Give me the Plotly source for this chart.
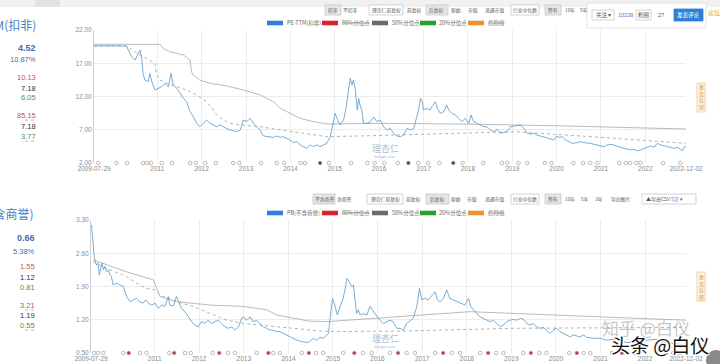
import plotly.graph_objects as go
from datetime import datetime

# ---------------- data (decimal years) ----------------
pe_years = [2009.57, 2010.31, 2010.345, 2010.42, 2010.50, 2010.57, 2010.61, 2010.65, 2010.68, 2010.72,
            2010.80, 2010.83, 2010.89, 2010.95, 2011.02, 2011.10, 2011.17, 2011.25, 2011.31, 2011.36,
            2011.44, 2011.51, 2011.59, 2011.66, 2011.74, 2011.81, 2011.89, 2011.96, 2012.04, 2012.11,
            2012.19, 2012.26, 2012.34, 2012.41, 2012.49, 2012.57, 2012.64, 2012.72, 2012.79, 2012.87,
            2012.94, 2013.02, 2013.09, 2013.17, 2013.24, 2013.32, 2013.39, 2013.47, 2013.54, 2013.62,
            2013.69, 2013.77, 2013.84, 2013.92, 2013.99, 2014.07, 2014.15, 2014.22, 2014.30, 2014.37,
            2014.45, 2014.52, 2014.60, 2014.67, 2014.75, 2014.82, 2014.90, 2014.96, 2015.01, 2015.05,
            2015.12, 2015.20, 2015.26, 2015.31, 2015.35, 2015.39, 2015.42, 2015.46, 2015.51, 2015.54,
            2015.57, 2015.61, 2015.65, 2015.73, 2015.80, 2015.88, 2015.95, 2016.03, 2016.10,
            2016.18, 2016.25, 2016.33, 2016.40, 2016.48, 2016.55, 2016.63, 2016.70, 2016.78, 2016.84,
            2016.89, 2016.93, 2016.97, 2017.00, 2017.08, 2017.15, 2017.19, 2017.27, 2017.31, 2017.38,
            2017.46, 2017.52, 2017.57, 2017.64, 2017.72, 2017.79, 2017.87, 2017.94, 2018.02, 2018.07,
            2018.13, 2018.21, 2018.28, 2018.36, 2018.43, 2018.51, 2018.58, 2018.66, 2018.73, 2018.81,
            2018.89, 2018.96, 2019.04, 2019.11, 2019.19, 2019.26, 2019.34, 2019.41, 2019.49, 2019.56,
            2019.64, 2019.71, 2019.79, 2019.86, 2019.94, 2020.00, 2020.05, 2020.13, 2020.20, 2020.28,
            2020.35, 2020.47, 2020.54, 2020.62, 2020.69, 2020.77, 2020.84, 2020.92, 2020.99, 2021.07,
            2021.14, 2021.22, 2021.29, 2021.37, 2021.44, 2021.52, 2021.59, 2021.67, 2021.74, 2021.82,
            2021.90, 2021.97, 2022.05, 2022.12, 2022.20, 2022.27, 2022.35, 2022.42, 2022.50, 2022.57,
            2022.65, 2022.72, 2022.80, 2022.84, 2022.87, 2022.925]
pe_values = [19.6, 19.6, 18.99, 17.99, 17.49, 18.49, 18.99, 17.74, 15.48, 14.48,
             14.23, 15.48, 13.98, 12.98, 13.23, 13.48, 13.98, 13.48, 15.48, 13.73,
             13.23, 12.48, 11.72, 11.22, 9.72, 8.97, 7.96, 7.46, 7.96, 8.47,
             7.96, 7.71, 7.46, 7.71, 7.46, 7.21, 6.96, 6.86, 6.71, 6.96,
             8.47, 8.22, 8.72, 7.96, 7.46, 6.96, 6.06, 5.96, 5.96, 5.86,
             6.06, 5.86, 5.96, 5.71, 5.46, 5.06, 5.21, 4.71, 4.46, 4.21,
             4.71, 4.46, 4.71, 4.46, 4.71, 4.96, 5.96, 7.96, 9.47, 8.72,
             7.71, 8.47, 10.47, 12.98, 14.73, 13.73, 14.48, 13.23, 9.97, 11.72,
             10.72, 9.97, 7.96, 7.96, 8.22, 8.87, 8.22, 8.47, 7.46,
             6.96, 7.21, 6.46, 6.06, 5.96, 6.21, 7.21, 6.96, 7.21, 8.97,
             9.97, 11.72, 11.22, 9.97, 10.22, 9.97, 10.47, 11.22, 10.22, 9.47,
             9.72, 10.72, 9.97, 9.47, 9.22, 8.72, 8.22, 8.72, 7.96, 9.22,
             8.22, 7.96, 7.71, 7.46, 7.46, 6.96, 6.71, 7.06, 6.46, 6.56,
             6.71, 7.46, 7.56, 7.71, 7.71, 7.21, 6.46, 6.36, 6.46, 6.21,
             6.06, 5.86, 5.71, 5.56, 5.46, 6.06, 5.86, 5.96, 5.46, 5.21,
             4.96, 5.06, 5.21, 5.06, 5.06, 4.96, 4.81, 4.71, 4.56, 4.46,
             4.71, 4.81, 4.71, 4.46, 4.36, 4.21, 4.06, 3.96, 4.06, 3.85,
             3.96, 4.21, 4.36, 4.56, 4.36, 4.96, 4.71, 4.56, 4.46, 4.36,
             4.21, 4.36, 3.96, 3.85, 4.36, 4.52]

pe_p50_years = [2009.57, 2011.06, 2011.13, 2011.28, 2011.44, 2011.59, 2011.74, 2011.77, 2011.81, 2011.96,
                2012.19, 2012.57, 2012.94, 2013.32, 2013.62, 2013.77, 2013.92, 2014.07, 2014.22, 2014.52,
                2014.82, 2016.03, 2018.00, 2020.00, 2022.925]
pe_p50_values = [19.85, 19.85, 19.24, 18.74, 18.49, 18.24, 17.49, 15.73, 15.23, 14.48,
                 13.98, 13.58, 12.98, 12.23, 11.22, 10.22, 9.72, 9.22, 8.72, 8.22,
                 7.86, 7.96, 7.85, 7.60, 7.11]

pe_p20_years = [2009.57, 2010.31, 2010.61, 2010.83, 2010.95, 2010.98, 2011.06, 2011.21, 2011.44, 2011.66,
                2011.89, 2012.11, 2012.26, 2012.34, 2012.49, 2012.64, 2012.87, 2013.32, 2013.69, 2014.07,
                2014.52, 2014.82, 2015.57, 2016.48, 2017.53, 2019.04, 2020.54, 2022.05, 2022.925]
pe_p20_values = [19.6, 19.6, 18.24, 17.49, 16.99, 15.48, 14.48, 13.98, 13.48, 12.98,
                 12.23, 11.22, 9.97, 9.22, 8.47, 7.96, 7.71, 7.46, 7.06, 6.71,
                 6.21, 5.96, 6.06, 6.21, 6.46, 6.71, 6.06, 5.36, 4.96]

pe_event_years = [2009.67, 2010.08, 2010.32, 2010.68, 2010.77, 2010.86, 2011.10, 2011.33, 2011.74, 2011.87,
                  2012.08, 2012.32, 2012.71, 2012.85, 2013.34, 2013.69, 2013.86, 2014.23, 2014.33, 2014.67,
                  2014.87, 2015.37, 2015.74, 2015.90, 2016.12, 2016.42, 2016.66, 2016.88, 2017.10, 2017.36,
                  2017.67, 2017.88, 2018.35, 2018.77, 2018.89, 2019.14, 2019.34, 2019.74, 2019.89, 2020.38,
                  2020.60, 2020.76, 2020.92, 2021.41, 2021.56, 2021.66, 2021.80, 2021.89, 2022.40, 2022.79,
                  2022.92]
pe_event_kind = [0, 0, 0, 0, 0, 0, 0, 0, 0, 0,
                 0, 0, 0, 0, 0, 0, 0, 0, 0, 1,
                 0, 0, 0, 0, 0, 0, 1, 0, 0, 0,
                 1, 0, 0, 0, 0, 0, 0, 0, 0, 0,
                 0, 0, 0, 0, 0, 0, 0, 0, 0, 0,
                 0]

pb_years = [2009.57, 2009.585, 2009.60, 2009.62, 2009.645, 2009.67, 2009.70, 2009.73, 2009.76, 2009.79,
            2009.82, 2009.85, 2009.88, 2009.92, 2009.96, 2010.00, 2010.03, 2010.07, 2010.15, 2010.22,
            2010.30, 2010.37, 2010.45, 2010.52, 2010.59, 2010.67, 2010.74, 2010.80, 2010.86, 2010.93,
            2011.01, 2011.08, 2011.16, 2011.23, 2011.31, 2011.34, 2011.42, 2011.49, 2011.55, 2011.60,
            2011.68, 2011.75, 2011.83, 2011.90, 2011.98, 2012.05, 2012.13, 2012.20, 2012.28, 2012.35,
            2012.43, 2012.50, 2012.58, 2012.65, 2012.73, 2012.80, 2012.88, 2012.95, 2013.00, 2013.06,
            2013.14, 2013.21, 2013.29, 2013.36, 2013.44, 2013.51, 2013.59, 2013.66, 2013.74, 2013.81,
            2013.89, 2013.96, 2014.04, 2014.11, 2014.19, 2014.26, 2014.33, 2014.41, 2014.48, 2014.56,
            2014.63, 2014.71, 2014.78, 2014.86, 2014.90, 2014.93, 2014.99, 2015.04, 2015.10, 2015.16,
            2015.22, 2015.27, 2015.31, 2015.34, 2015.38, 2015.42, 2015.46, 2015.49, 2015.53, 2015.57,
            2015.61, 2015.68, 2015.76, 2015.83, 2015.91, 2015.98, 2016.05, 2016.13, 2016.20, 2016.28,
            2016.35, 2016.43, 2016.50, 2016.58, 2016.65, 2016.73, 2016.80, 2016.88, 2016.94, 2016.99,
            2017.06, 2017.14, 2017.21, 2017.29, 2017.34, 2017.40, 2017.48, 2017.55, 2017.62, 2017.70,
            2017.77, 2017.85, 2017.96, 2018.04, 2018.09, 2018.15, 2018.22, 2018.30, 2018.37, 2018.45,
            2018.52, 2018.60, 2018.67, 2018.75, 2018.82, 2018.90, 2018.97, 2019.05, 2019.12, 2019.20,
            2019.27, 2019.35, 2019.42, 2019.49, 2019.57, 2019.64, 2019.72, 2019.79, 2019.87, 2019.94,
            2020.02, 2020.09, 2020.17, 2020.24, 2020.32, 2020.39, 2020.47, 2020.54, 2020.62, 2020.69,
            2020.84, 2020.99, 2021.14, 2021.29, 2021.44, 2021.59, 2021.74, 2021.89, 2022.04, 2022.26,
            2022.34, 2022.49, 2022.64, 2022.79, 2022.925]
pb_values = [3.16, 3.19, 3.02, 2.74, 2.53, 2.42, 2.35, 2.39, 2.14, 2.28,
             2.39, 2.25, 2.32, 2.21, 2.25, 2.14, 2.11, 1.93, 1.97, 1.93,
             1.90, 1.69, 1.58, 1.62, 1.65, 1.58, 1.55, 1.62, 1.55, 1.51,
             1.55, 1.44, 1.51, 1.48, 1.69, 1.51, 1.49, 1.69, 1.55, 1.44,
             1.37, 1.26, 1.16, 1.09, 1.05, 1.16, 1.12, 1.19, 1.12, 1.16,
             1.19, 1.12, 1.05, 1.02, 1.05, 0.98, 1.05, 1.23, 1.26, 1.19,
             1.26, 1.16, 1.19, 1.12, 1.05, 1.02, 0.98, 0.98, 0.95, 0.95,
             0.91, 0.88, 0.84, 0.81, 0.77, 0.75, 0.74, 0.72, 0.74, 0.81,
             0.77, 0.83, 0.81, 0.88, 0.91, 1.19, 1.65, 1.51, 1.30, 1.48,
             1.62, 1.83, 2.07, 2.04, 1.97, 1.90, 1.93, 1.69, 1.33, 1.41,
             1.30, 1.33, 1.30, 1.48, 1.37, 1.30, 1.19, 1.12, 1.16, 1.19,
             1.16, 1.02, 1.02, 0.98, 1.12, 1.19, 1.23, 1.48, 1.86, 1.62,
             1.65, 1.62, 1.69, 1.79, 1.62, 1.58, 1.65, 1.83, 1.65, 1.62,
             1.58, 1.55, 1.51, 1.65, 1.48, 1.41, 1.33, 1.26, 1.23, 1.19,
             1.16, 1.19, 1.12, 1.05, 1.09, 1.16, 1.19, 1.21, 1.19, 1.23,
             1.21, 1.12, 1.09, 1.12, 1.05, 1.02, 1.04, 0.98, 0.91, 0.98,
             1.02, 0.95, 0.91, 0.88, 0.84, 0.88, 0.86, 0.84, 0.88, 0.83,
             0.81, 0.81, 0.77, 0.79, 0.76, 0.72, 0.73, 0.76, 0.77, 0.79,
             0.76, 0.72, 0.70, 0.68, 0.66]

pb_p50_years = [2009.62, 2010.37, 2010.97, 2011.12, 2011.49, 2012.24, 2012.99, 2013.51, 2013.74, 2014.11,
                2014.48, 2014.86, 2015.61, 2016.35, 2018.07, 2022.925]
pb_p50_values = [2.46, 2.21, 2.04, 1.69, 1.58, 1.51, 1.48, 1.41, 1.30, 1.23,
                 1.17, 1.16, 1.21, 1.26, 1.37, 1.19]

pb_p20_years = [2009.62, 2010.00, 2010.37, 2010.59, 2010.82, 2011.01, 2011.12, 2011.49, 2011.87, 2012.24,
                2012.62, 2012.99, 2013.36, 2014.11, 2014.86, 2015.61, 2016.50, 2019.05, 2022.925]
pb_p20_values = [2.42, 2.25, 2.11, 1.97, 1.86, 1.83, 1.72, 1.58, 1.48, 1.33,
                 1.19, 1.12, 1.09, 1.02, 0.95, 0.95, 0.96, 1.02, 1.04]

pb_event_years = [2009.57, 2009.645, 2009.73, 2009.85, 2010.30, 2010.42, 2010.67, 2010.82, 2011.33, 2011.44,
                  2011.68, 2011.81, 2012.30, 2012.45, 2012.65, 2012.80, 2013.29, 2013.55, 2013.66, 2013.81,
                  2014.30, 2014.46, 2014.62, 2014.78, 2015.23, 2015.48, 2015.67, 2015.87, 2016.28, 2016.46,
                  2016.65, 2016.84, 2017.29, 2017.47, 2017.66, 2017.85, 2018.30, 2018.48, 2018.66, 2018.82,
                  2019.27, 2019.44, 2019.63, 2019.79, 2020.30, 2020.47, 2020.62, 2020.77, 2021.26, 2021.48,
                  2021.62, 2021.77, 2022.27, 2022.47, 2022.63, 2022.77]
pb_event_kind = [2, 0, 0, 0, 0, 1, 0, 0, 0, 1,
                 0, 0, 0, 1, 0, 0, 0, 1, 0, 0,
                 0, 1, 0, 0, 0, 1, 0, 0, 0, 1,
                 0, 0, 0, 1, 0, 0, 0, 1, 0, 0,
                 0, 1, 0, 0, 0, 1, 0, 0, 0, 1,
                 0, 0, 0, 1, 0, 0]

x_tick_dates = ["2009-07-29", "2011-01-01", "2012-01-01", "2013-01-01", "2014-01-01", "2015-01-01",
                "2016-01-01", "2017-01-01", "2018-01-01", "2019-01-01", "2020-01-01", "2021-01-01",
                "2022-01-01", "2022-12-02"]
x_tick_text = ["2009-07-29", "2011", "2012", "2013", "2014", "2015", "2016", "2017", "2018", "2019",
               "2020", "2021", "2022", "2022-12-02"]
pe_ticks = [2, 7, 12, 17, 22]
pb_ticks = [0.5, 1.2, 1.9, 2.6, 3.3]

pe_stats = ["4.52", "10.87%", "10.13", "7.18", "6.05", "85.15", "7.18", "3.77"]
pb_stats = ["0.66", "5.38%", "1.55", "1.12", "0.81", "3.21", "1.19", "0.55"]
stat_names = ["当前值", "分位点", "80%分位点", "50%分位点", "20%分位点", "最大值", "平均值", "最小值"]

# ---------------- helpers ----------------
W, H = 720, 364
CJK = "Noto Sans CJK SC, Liberation Sans, sans-serif"
LAT = "Liberation Sans, Noto Sans CJK SC, sans-serif"


def to_date(v):
    y = int(v)
    a, b = datetime(y, 1, 1), datetime(y + 1, 1, 1)
    return a + (b - a) * (v - y)


def px(x):
    return x / W


def py(y):
    return 1 - y / H


shapes, anns = [], []


def text(x, y, s, size=6, color="#555", xa="left", ya="middle", family=CJK, **font_kw):
    f = dict(size=size, color=color, family=family)
    f.update(font_kw)
    anns.append(dict(x=px(x), y=py(y), xref="paper", yref="paper", text=s, showarrow=False,
                     xanchor=xa, yanchor=ya, font=f, borderpad=0))


def rect(x0, y0, x1, y1, fill="rgba(0,0,0,0)", line="#ccc", lw=0.8, layer="above"):
    shapes.append(dict(type="rect", xref="paper", yref="paper", x0=px(x0), x1=px(x1),
                       y0=py(y1), y1=py(y0), fillcolor=fill, line=dict(color=line, width=lw), layer=layer))


def hline(x0, x1, y, color="#999", dash="dot", lw=0.8):
    shapes.append(dict(type="line", xref="paper", yref="paper", x0=px(x0), x1=px(x1),
                       y0=py(y), y1=py(y), line=dict(color=color, width=lw, dash=dash)))


fig = go.Figure()

LINE_BLUE = "#68a3cf"


def add_panel(xa, ya, yrs, vals, p50y, p50v, p20y, p20v, ev_y, ev_k, ymin, kind_colors):
    fig.add_trace(go.Scatter(x=[to_date(v) for v in p50y], y=p50v, mode="lines", xaxis=xa, yaxis=ya,
                             line=dict(color="#a8a8a8", width=0.8), hoverinfo="skip", showlegend=False))
    fig.add_trace(go.Scatter(x=[to_date(v) for v in p20y], y=p20v, mode="lines", xaxis=xa, yaxis=ya,
                             line=dict(color="#97a397", width=0.8, dash="dot"), hoverinfo="skip",
                             showlegend=False))
    fig.add_trace(go.Scatter(x=[to_date(v) for v in yrs], y=vals, mode="lines", xaxis=xa, yaxis=ya,
                             line=dict(color=LINE_BLUE, width=0.9), showlegend=False))
    fills = [kind_colors[k] for k in ev_k]
    fig.add_trace(go.Scatter(x=[to_date(v) for v in ev_y], y=[ymin] * len(ev_y), mode="markers",
                             xaxis=xa, yaxis=ya, cliponaxis=False, showlegend=False,
                             marker=dict(symbol="circle", size=3.6, color=fills,
                                         line=dict(color="#a0a0a0", width=0.7))))


add_panel("x", "y", pe_years, pe_values, pe_p50_years, pe_p50_values, pe_p20_years, pe_p20_values,
          pe_event_years, pe_event_kind, 2, ["white", "#444444", "#e8a23a"])
add_panel("x2", "y2", pb_years, pb_values, pb_p50_years, pb_p50_values, pb_p20_years, pb_p20_values,
          pb_event_years, pb_event_kind, 0.5, ["white", "#c8323a", "#e8b040"])

xcommon = dict(type="date", range=["2009-07-29", "2022-12-02"], tickvals=x_tick_dates,
               ticktext=x_tick_text, showgrid=True, gridcolor="#ececec", gridwidth=1,
               tickfont=dict(size=6.5, color="#8a8a8a", family=LAT), ticks="", zeroline=False,
               showline=False, automargin=False)
ycommon = dict(showgrid=True, gridcolor="#ececec", tickformat=".2f", ticks="", zeroline=False,
               tickfont=dict(size=6.5, color="#7b8fae", family=LAT), showline=True, linecolor="#d0d0d0",
               linewidth=1, automargin=False)

fig.update_layout(
    width=W, height=H, margin=dict(l=0, r=0, t=0, b=0, pad=0), autosize=False,
    paper_bgcolor="white", plot_bgcolor="white", showlegend=False,
    xaxis=dict(domain=[94 / W, 686 / W], anchor="y", **xcommon),
    yaxis=dict(domain=[py(163), py(30)], anchor="x", range=[2, 22], tickvals=pe_ticks, **ycommon),
    xaxis2=dict(domain=[91 / W, 686 / W], anchor="y2", **xcommon),
    yaxis2=dict(domain=[py(353), py(220)], anchor="x2", range=[0.5, 3.3], tickvals=pb_ticks, **ycommon),
)

# ---------------- page chrome ----------------
rect(0, 0, 720, 7, fill="#f1f1f1", line="#f1f1f1", lw=0, layer="below")
rect(35, 0, 60, 7, fill="#e2e2e2", line="#e2e2e2", lw=0, layer="below")

# left stats panels
text(37, 25, "PE-TTM(扣非)", size=12, color="#3f7fc6", xa="right")
text(35, 213, "PB(不含商誉)", size=12, color="#3f7fc6", xa="right")
stat_colors = ["#3d6fb6", "#3d6fb6", "#c8505a", "#333333", "#4f8f4f", "#c8505a", "#333333", "#4f8f4f"]
pe_rows = [48, 60, 77, 88, 98, 115, 126, 136]
pb_rows = [238, 251, 266, 277, 287, 305, 315, 325]
for i in range(8):
    bold = "bold" if i == 0 else "normal"
    sz = 9 if i == 0 else 7.5
    text(37, pe_rows[i], pe_stats[i], size=sz, color=stat_colors[i], xa="right", family=LAT, weight=bold)
    text(36, pb_rows[i], pb_stats[i], size=sz, color=stat_colors[i], xa="right", family=LAT, weight=bold)
    text(3, pe_rows[i], stat_names[i] + "：", size=6, color="#999", xa="right")
    text(3, pb_rows[i], stat_names[i] + "：", size=6, color="#999", xa="right")
for yy in (120, 141):
    hline(25, 37, yy, color="#c8a0a0" if yy == 120 else "#90b090")
for yy in (310, 330):
    hline(25, 36, yy, color="#c8a0a0" if yy == 310 else "#90b090")


def toolbar(y, items):
    for (x0, x1, label, style) in items:
        if style == "sel":
            rect(x0, y - 5, x1, y + 5, fill="#e6e6e6", line="#c8c8c8")
        elif style == "box":
            rect(x0, y - 5, x1, y + 5, fill="white", line="#c8c8c8")
        text((x0 + x1) / 2, y, label, size=4.8, color="#555", xa="center")


toolbar(10, [(325, 341, "扣非", "sel"), (342, 359, "不扣非", ""),
             (369, 403, "理杏仁前复权", "box"), (406, 423, "前复权", ""), (426, 448, "后复权", "sel"),
             (450, 462, "原始", ""), (466, 479, "市值", ""), (483, 505, "流通市值", ""),
             (511, 539, "行业中位数", "box"), (545, 561, "所有", "sel"), (563, 576, "10年", ""),
             (578, 590, "5年", "")])
toolbar(199, [(313, 335, "不含商誉", "sel"), (337, 352, "含商誉", ""),
              (367, 403, "理杏仁前复权", "box"), (406, 422, "前复权", ""), (426, 449, "后复权", "sel"),
              (450, 462, "原始", ""), (466, 478, "市值", ""), (483, 505, "流通市值", ""),
              (511, 539, "行业中位数", "box"), (545, 561, "所有", "sel"), (563, 576, "10年", ""),
              (579, 590, "5年", ""), (593, 604, "3年", ""), (610, 630, "导出图片", "")])
rect(642, 194, 696, 204, fill="white", line="#c8c8c8")
text(645, 199, "▲导出CSV <span style='color:#3f7fc6'>5次</span> ▾", size=5, color="#555")

# popup (top right)
rect(587, 3, 706, 28, fill="white", line="#dcdcdc")
rect(592, 10, 614, 20, fill="white", line="#c8c8c8")
text(603, 15, "关注 ▾", size=5.5, color="#555", xa="center")
text(625, 15, "10239", size=5.5, color="#3f7fc6", xa="center", family=LAT)
rect(636, 10, 651, 20, fill="white", line="#c8c8c8")
text(643.5, 15, "粉圈", size=5.5, color="#555", xa="center")
text(661, 15, "27", size=5.5, color="#555", xa="center", family=LAT)
rect(674, 9, 703, 21, fill="#2f7fd8", line="#2f7fd8")
text(688.5, 15, "发表评论", size=5.5, color="white", xa="center")
text(707, 13, "论坛", size=6, color="#d9a040")

# legends
def legend(y, first_label):
    items = [(267, "#2f7ed8", first_label, False), (322, "#d9232a", "80%分位点", True),
             (372, "#6b6b6b", "50%分位点", False), (420, "#27a22f", "20%分位点", False),
             (468, "#f0922b", "危险值", True)]
    for x0, col, lab, struck in items:
        rect(x0, y - 2.3, x0 + 16, y + 2.3, fill=col, line=col, lw=0)
        kw = dict(lineposition="through") if struck else {}
        text(x0 + 18.5, y, lab, size=5.5, color="#666" if not struck else "#777", **kw)


legend(23, "PE-TTM(扣非)")
legend(213, "PB(不含商誉)")

# side tabs
for (y0, y1) in ((83, 112), (272, 301)):
    rect(697, y0, 705, y1, fill="#fdf3e3", line="#f0c98a")
    text(701, (y0 + y1) / 2, "意<br>见<br>反<br>馈", size=5, color="#d9953a", xa="center")

# chart watermarks
for (x, y) in ((385, 148), (385, 338)):
    text(x, y, "理杏仁", size=9, color="#b4bccb", xa="center")
    text(x, y + 8, "lixinger.com", size=4, color="#b4bccb", xa="center", family=LAT)

# page watermarks
text(646, 327, "知乎 @白仪", size=17, color="rgba(150,150,150,0.55)", xa="center")
text(660, 344, "头条 @白仪", size=19, color="#111",
     xa="center", shadow="1px 1px 0 white, -1px -1px 0 white, 1px -1px 0 white, -1px 1px 0 white")
shapes.append(dict(type="circle", xref="paper", yref="paper", x0=px(706), x1=px(726), y0=py(370),
                   y1=py(350), fillcolor="#8a8a8a", line=dict(width=0)))

fig.update_layout(shapes=shapes, annotations=anns)
fig.write_html("out.html", config={"displayModeBar": False},
               post_script="document.body.style.margin='0';document.body.style.overflow='hidden';")
